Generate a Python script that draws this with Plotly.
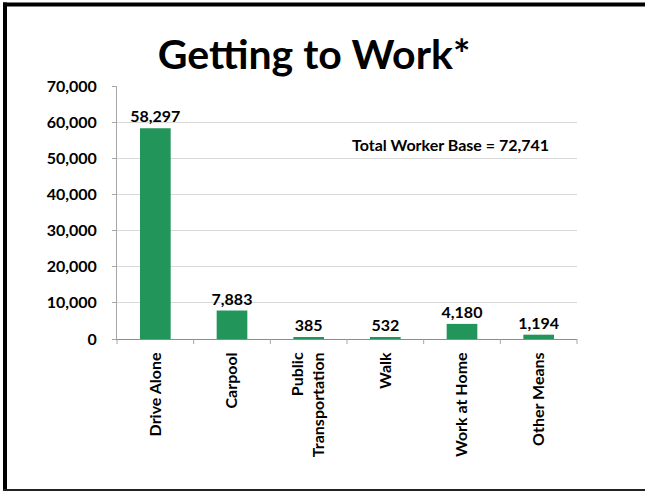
import plotly.graph_objects as go

# Commute mode counts
modes = ["Drive Alone", "Carpool", "Public<br>Transportation", "Walk", "Work at Home", "Other Means"]
workers = [58297, 7883, 385, 532, 4180, 1194]
total_workers = 72741
y_ticks = [0, 10000, 20000, 30000, 40000, 50000, 60000, 70000]

W, H = 645, 491
L, R, T, B = 117, 577, 86, 339  # plot area in pixels

def px_x(x):
    return (x - L) / (R - L)

def px_y(y):
    return (B - y) / (B - T)

font_family = "Lato, 'Open Sans', sans-serif"

fig = go.Figure(
    go.Bar(
        x=modes,
        y=workers,
        marker=dict(color="#22955A", line=dict(width=0)),
        text=[f"<b>{v:,}</b>" for v in workers],
        textposition="outside",
        constraintext="none",
        textfont=dict(family=font_family, size=16, color="black"),
        cliponaxis=False,
        hoverinfo="x+y",
    )
)

fig.update_layout(
    width=W,
    height=H,
    margin=dict(l=L, r=W - R, t=T, b=H - B),
    paper_bgcolor="white",
    plot_bgcolor="white",
    bargap=0.6,
    showlegend=False,
    font=dict(family=font_family, color="black"),
    title=dict(
        text="<b>Getting to Work*</b>",
        x=314 / W, xref="container", xanchor="center",
        y=1 - 55 / H, yref="container", yanchor="middle",
        font=dict(family=font_family, size=41, color="black"),
    ),
    xaxis=dict(
        tickangle=-90,
        tickmode="array",
        tickvals=modes,
        ticktext=[f"<b>{m}</b>" for m in modes],
        tickfont=dict(family=font_family, size=16, color="black"),
        ticklabelstandoff=6,
        showline=True, linecolor="#8c8c8c", linewidth=1,
        ticks="", showgrid=False,
    ),
    yaxis=dict(
        range=[0, 70000],
        tickvals=y_ticks,
        ticktext=[f"<b>{v:,}</b>" for v in y_ticks],
        tickfont=dict(family=font_family, size=16, color="black"),
        showline=True, linecolor="#a6a6a6", linewidth=1,
        ticks="outside", ticklen=4, tickcolor="#a6a6a6",
        ticklabelstandoff=12,
        showgrid=True, gridcolor="#d9d9d9", gridwidth=1.2,
        zeroline=False,
    ),
    annotations=[
        dict(
            text=f"<b>Total Worker Base = {total_workers:,}</b>",
            x=px_x(450), y=px_y(144), xref="paper", yref="paper",
            xanchor="center", yanchor="middle", showarrow=False,
            font=dict(family=font_family, size=16, color="black"),
        )
    ],
)

# category divider ticks under the x axis
shapes = []
n = len(modes)
for i in range(n + 1):
    xp = i / n
    shapes.append(dict(type="line", xref="paper", yref="paper",
                       x0=xp, x1=xp, y0=0, y1=px_y(B + 5),
                       line=dict(color="#a6a6a6", width=1)))

# slide frame: filled bands for the left, top and bottom edges
def band(x0, x1, y0, y1, color):
    return dict(type="rect", xref="paper", yref="paper",
                x0=px_x(x0), x1=px_x(x1), y0=px_y(y0), y1=px_y(y1),
                line=dict(width=0), fillcolor=color, layer="below")

shapes += [
    band(3, 7, 2.5, 491, "black"),
    band(3, 1000, 2.5, 6.5, "black"),
    band(3, 1000, 489, 491, "#222222"),
]
fig.update_layout(shapes=shapes)

fig.write_html("out.html")
